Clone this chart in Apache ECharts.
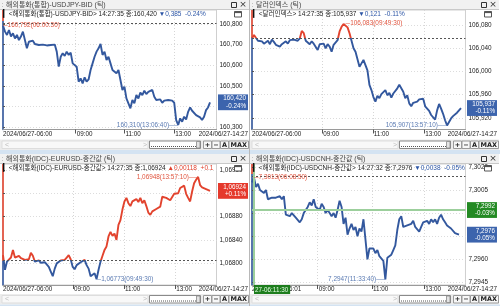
<!DOCTYPE html>
<html>
<head>
<meta charset="utf-8">
<script src="https://cdn.jsdelivr.net/npm/echarts@6/dist/echarts.min.js"></script>
<style>
html,body{margin:0;padding:0;background:#fff}
#c{width:500px;height:306px}
</style>
</head>
<body>
<div id="c"></div>
<script>
// ---- quotes, one value per sample (about 2 px of chart width each) ----
const usdjpyValues = [160.792,160.763,160.747,160.771,160.739,160.755,160.730,160.747,160.722,160.739,
160.763,160.758,160.682,160.714,160.706,160.719,160.703,160.709,160.698,160.703,
160.700,160.706,160.696,160.701,160.698,160.693,160.700,160.666,160.593,160.641,
160.658,160.645,160.666,160.650,160.661,160.609,160.617,160.593,160.520,160.536,
160.512,160.541,160.520,160.531,160.577,160.609,160.641,160.666,160.682,160.703,
160.650,160.666,160.625,160.641,160.609,160.577,160.585,160.561,160.577,160.569,
160.480,160.496,160.439,160.415,160.391,160.431,160.415,160.455,160.439,160.467,
160.455,160.476,160.460,160.471,160.463,160.480,160.447,160.431,160.423,160.434,
160.418,160.428,160.421,160.431,160.425,160.428,160.418,160.334,160.310,160.342,
160.326,160.350,160.337,160.374,160.395,160.379,160.370,160.358,160.366,160.347,
160.334,160.350,160.382,160.395,160.420];

const dxyValues = [106.057,106.063,106.065,106.053,106.050,106.052,106.048,106.051,106.053,106.047,
106.055,106.051,106.046,106.048,106.043,106.047,106.050,106.052,106.048,106.054,
106.051,106.055,106.052,106.053,106.057,106.070,106.066,106.053,106.051,106.047,
106.052,106.048,106.050,106.037,106.047,106.044,106.048,106.040,106.047,106.043,
106.034,106.046,106.048,106.054,106.069,106.077,106.082,106.083,106.076,106.066,
106.053,106.040,106.034,106.031,106.008,106.014,106.020,106.011,106.002,105.977,
105.968,105.956,105.948,105.958,105.954,105.961,105.958,105.968,105.959,105.963,
105.955,105.962,105.959,105.971,105.977,105.971,105.965,105.954,105.959,105.945,
105.940,105.946,105.944,105.948,105.952,105.950,105.953,105.940,105.936,105.932,
105.925,105.922,105.917,105.933,105.944,105.936,105.927,105.916,105.907,105.913,
105.919,105.923,105.922,105.929,105.932,105.937];

const eurusdValues = [1.06814,1.06789,1.06803,1.06800,1.06810,1.06823,1.06810,1.06807,1.06813,1.06809,
1.06810,1.06806,1.06803,1.06807,1.06818,1.06813,1.06803,1.06800,1.06805,1.06801,
1.06799,1.06802,1.06800,1.06794,1.06786,1.06778,1.06791,1.06800,1.06797,1.06805,
1.06807,1.06806,1.06810,1.06814,1.06807,1.06794,1.06790,1.06797,1.06800,1.06802,
1.06799,1.06806,1.06797,1.06791,1.06778,1.06776,1.06783,1.06773,1.06789,1.06803,
1.06813,1.06823,1.06829,1.06846,1.06854,1.06847,1.06851,1.06840,1.06866,1.06874,
1.06892,1.06906,1.06912,1.06903,1.06898,1.06906,1.06903,1.06910,1.06905,1.06912,
1.06903,1.06908,1.06898,1.06887,1.06883,1.06889,1.06886,1.06893,1.06892,1.06897,
1.06914,1.06916,1.06912,1.06913,1.06908,1.06910,1.06919,1.06916,1.06920,1.06929,
1.06926,1.06933,1.06919,1.06912,1.06906,1.06923,1.06937,1.06943,1.06948,1.06934,
1.06930,1.06933,1.06927,1.06930,1.06924];

const usdcnhValues = [7.3010,7.3013,7.3007,7.3009,7.3005,7.3006,7.3003,7.3005,7.2999,7.2998,
7.3000,7.2999,7.3000,7.2999,7.3001,7.2999,7.3001,7.2989,7.2989,7.2988,
7.2990,7.2989,7.2987,7.2988,7.2984,7.2986,7.2990,7.2991,7.2994,7.2997,
7.2995,7.2999,7.2994,7.2995,7.2992,7.2996,7.2994,7.2990,7.2992,7.2990,
7.2988,7.2990,7.2987,7.2992,7.2998,7.2994,7.2983,7.2987,7.2976,7.2980,
7.2983,7.2979,7.2981,7.2975,7.2980,7.2978,7.2986,7.2987,7.2960,7.2967,
7.2966,7.2967,7.2964,7.2966,7.2962,7.2961,7.2959,7.2947,7.2961,7.2960,
7.2963,7.2966,7.2969,7.2979,7.2986,7.2988,7.2981,7.2981,7.2982,7.2981,
7.2983,7.2985,7.2981,7.2980,7.2978,7.2981,7.2984,7.2984,7.2985,7.2983,
7.2986,7.2984,7.2986,7.2983,7.2987,7.2989,7.2986,7.2984,7.2982,7.2982,
7.2980,7.2981,7.2977,7.2978,7.2976];

// previous close (reference level for up/down colouring)
const baseLevels = [160.805, 106.058, 1.06806, 7.3014];
const decimals = [3, 3, 5, 4];

// price axis tick labels
const usdjpyYTicks = [160.3, 160.4, 160.5, 160.6, 160.7, 160.8];
const dxyYTicks = [105.92, 105.96, 106.00, 106.04, 106.08];
const eurusdYTicks = [1.0680, 1.0684, 1.0688, 1.0692, 1.0696];
const usdcnhYTicks = [7.2945, 7.2960, 7.2975, 7.2990, 7.3005, 7.3020];

// sample index where each hour mark falls
const hourTickText = ['09:00', '11:00', '13:00'];
const usdjpyHourIdx = [36.5, 61, 86];
const dxyHourIdx = [35.3, 60.7, 86.5];
const eurusdHourIdx = [35.2, 60.8, 86.5];
const usdcnhHourIdx = [33, 60.3, 86.5];
const startLabels = ['2024/06/27-06:00', '2024/06/27-06:00', '2024/06/27-06:00', '2024/06/27-06:01'];
const endLabel = '2024/06/27-14:27';

const windowTitles = ['해외통화(통합)-USDJPY-BID (틱)', '달러인덱스 (틱)', '해외통화(IDC)-EURUSD-중간값 (틱)', '해외통화(IDC)-USDCNH-중간값 (틱)'];
const itemNames = ['해외통화(통합)-USDJPY-BID', '달러인덱스', '해외통화(IDC)-EURUSD-중간값', '해외통화(IDC)-USDCNH-중간값'];
const quoteTimes = ['14:27:35', '14:27:35', '14:27:35', '14:27:32'];
const highTimes = ['06:00:30', '09:49:30', '13:57:10', '06:08:50'];
const lowTimes = ['13:06:40', '13:57:10', '09:49:30', '11:33:40'];

// crosshair on the USDCNH chart
const cursorValue = 7.2992;
const cursorIdx = 1;
const cursorTimeText = '27-06:11:30';

// ---- fonts: prefer a narrow face for the dense numeric labels ----
const probe = document.createElement('canvas').getContext('2d');
function hasFont(name) {
  const s = '2024/06/27-06:00 ABCxyz';
  probe.font = '20px monospace';
  const a = probe.measureText(s).width;
  probe.font = '20px "' + name + '", monospace';
  return Math.abs(probe.measureText(s).width - a) > 0.5;
}
const NARROW = hasFont('Liberation Sans Narrow');
const FONT = (NARROW ? '"Liberation Sans Narrow"' : '"Liberation Sans"') + ',"Noto Sans CJK KR",sans-serif';
const SZ = NARROW
  ? {axis: 7.5, y: 7.3, info: 7.2, title: 7.5, mark: 7.5, box: 7.2}
  : {axis: 6.3, y: 6.4, info: 6.5, title: 7, mark: 6.4, box: 6.3};

// ---- layout / styling ----
const RED = '#e2432e', BLUE = '#33589e', HI_TXT = '#e0553f', LO_TXT = '#5b7bb3';
const PLOT_W = 214.5;
const layout = [
  {ox: 0, oy: 0, h: 119.5, yMin: 160.288, yMax: 160.868, hiSide: 'right', loSide: 'left'},
  {ox: 250, oy: 0, h: 119.5, yMin: 105.900, yMax: 106.106, hiSide: 'right', loSide: 'left'},
  {ox: 0, oy: 154, h: 121, yMin: 1.06763, yMax: 1.06970, hiSide: 'left', loSide: 'right'},
  {ox: 250, oy: 154, h: 121, yMin: 7.29433, yMax: 7.30219, hiSide: 'right', loSide: 'left'}
];

const panels = [
  {values: usdjpyValues, yTicks: usdjpyYTicks, hourIdx: usdjpyHourIdx},
  {values: dxyValues, yTicks: dxyYTicks, hourIdx: dxyHourIdx},
  {values: eurusdValues, yTicks: eurusdYTicks, hourIdx: eurusdHourIdx},
  {values: usdcnhValues, yTicks: usdcnhYTicks, hourIdx: usdcnhHourIdx}
];

const fmt = (v, d) => v.toFixed(d).replace('.', ',');
const pctText = (v, base) => {
  const p = (v - base) / base * 100;
  return (p >= 0 ? '+' : '-') + Math.abs(p).toFixed(2) + '%';
};
const measure = (t, size) => { probe.font = size + 'px ' + FONT; return probe.measureText(t).width; };

const grids = [], xAxes = [], yAxes = [], series = [], visualMaps = [], graphics = [];

panels.forEach((p, i) => {
  const L = layout[i];
  const base = baseLevels[i], dec = decimals[i];
  const last = p.values.length - 1;
  const lastV = p.values[last];
  const gl = L.ox + 2, gt = L.oy + 10;
  const pxPerIdx = 2;
  grids.push({left: gl, top: gt, width: PLOT_W, height: L.h, show: true,
    borderColor: '#cfcfcf', borderWidth: 1, backgroundColor: '#fff'});

  const endShift = (L.ox + 248 - measure(endLabel, SZ.axis)) - (gl + last * pxPerIdx);
  xAxes.push({
    gridIndex: i, type: 'value', min: 0, max: PLOT_W / pxPerIdx,
    axisLine: {show: true, lineStyle: {color: '#9a9a9a', width: 1}},
    axisTick: {show: true, customValues: p.hourIdx, length: 4, lineStyle: {color: '#555'}},
    axisLabel: {
      show: true, customValues: [0].concat(p.hourIdx, [last]),
      showMinLabel: true, showMaxLabel: true, margin: 1.5, align: 'left',
      fontSize: SZ.axis, fontFamily: FONT, color: '#222',
      formatter: v => {
        if (v === 0) return startLabels[i];
        if (v === last) return '{e|' + endLabel + '}';
        const k = p.hourIdx.indexOf(v);
        return k >= 0 ? '{t|' + hourTickText[k] + '}' : '';
      },
      rich: {
        e: {padding: [0, 0, 0, endShift], fontSize: SZ.axis, fontFamily: FONT, color: '#222'},
        t: {padding: [0, 0, 0, 1], fontSize: SZ.axis, fontFamily: FONT, color: '#222'}
      }
    },
    splitLine: {show: true, lineStyle: {color: '#d6d6d6', type: [1, 2], width: 1}}
  });

  const fc = Math.max(0, Math.min(1, (L.yMax - base) / (L.yMax - L.yMin)));
  yAxes.push({
    gridIndex: i, type: 'value', position: 'right', min: L.yMin, max: L.yMax,
    axisLine: {show: true, lineStyle: {width: 1.6, color: {
      type: 'linear', x: 0, y: 0, x2: 0, y2: 1,
      colorStops: [{offset: 0, color: RED}, {offset: fc, color: RED}, {offset: fc, color: BLUE}, {offset: 1, color: BLUE}]
    }}},
    axisTick: {show: true, customValues: p.yTicks, length: 2, lineStyle: {color: '#555'}},
    axisLabel: {customValues: p.yTicks, showMinLabel: true, showMaxLabel: true, margin: 3,
      fontSize: SZ.y, fontFamily: FONT, color: '#222', formatter: v => fmt(v, dec)},
    splitLine: {show: true, lineStyle: {color: '#dcdcdc', type: [1, 2], width: 1}}
  });

  // red above the previous close, blue below it
  visualMaps.push({type: 'piecewise', show: false, seriesIndex: i, dimension: 1,
    pieces: [
      {gt: base, lte: L.yMax + 1, color: RED},
      {gt: L.yMin - 1, lte: base, color: BLUE}
    ],
    outOfRange: {color: BLUE}});

  const boxLabel = (bg) => ({
    show: true, position: 'end', distance: 31.5, align: 'right', verticalAlign: 'middle',
    width: 26, backgroundColor: bg, color: '#fff', padding: [1, 2, 0, 2],
    fontSize: SZ.box, lineHeight: 7.4, fontFamily: FONT
  });

  const lines = [
    {yAxis: base, lineStyle: {color: '#555', type: [2, 2], width: 1}, label: {show: false}},
    {yAxis: lastV, lineStyle: {width: 0, color: 'rgba(0,0,0,0)'},
      label: Object.assign(boxLabel(lastV >= base ? '#e5392c' : '#3c64ad'),
        {formatter: () => fmt(lastV, dec) + '\n' + pctText(lastV, base)})}
  ];
  if (i === 3) {
    lines.push({yAxis: cursorValue, lineStyle: {color: '#9ccf9c', width: 2, type: 'solid'},
      label: Object.assign(boxLabel('#238a23'), {formatter: () => fmt(cursorValue, dec) + '\n' + pctText(cursorValue, base)})});
    lines.push({xAxis: cursorIdx, lineStyle: {color: '#9ccf9c', width: 2, type: 'solid'},
      label: {show: true, position: 'start', distance: 0, align: 'left', verticalAlign: 'top',
        backgroundColor: '#1d7d1d', color: '#e8ffe8', padding: [2, 2, 1, 1], fontSize: SZ.axis, fontFamily: FONT,
        formatter: () => cursorTimeText}});
  }

  const hiLo = (side, color, textFn) => ({
    show: true, position: side, distance: 0, color: color, fontSize: SZ.mark, fontFamily: FONT, formatter: textFn
  });
  const leftText = pp => fmt(pp.value, dec) + '(' + pp.name + ')\u2500\u2500';
  const rightText = pp => '\u2500' + fmt(pp.value, dec) + '(' + pp.name + ')';

  series.push({
    type: 'line', xAxisIndex: i, yAxisIndex: i,
    data: p.values.map((v, k) => [k, v]),
    symbol: 'none', showSymbol: false, animation: false,
    lineStyle: {width: 1.9},
    markLine: {silent: true, symbol: ['none', 'none'], animation: false, precision: dec, data: lines},
    markPoint: {silent: true, animation: false, symbol: 'circle', symbolSize: 0.1,
      itemStyle: {color: 'rgba(0,0,0,0)'},
      data: [
        {type: 'max', name: highTimes[i], label: hiLo(L.hiSide, HI_TXT, L.hiSide === 'right' ? rightText : leftText)},
        {type: 'min', name: lowTimes[i], label: hiLo(L.loSide, LO_TXT, L.loSide === 'right' ? rightText : leftText)}
      ]}
  });

  // ---- window chrome: title bar, quote line, scroll row ----
  const ox = L.ox, oy = L.oy;
  const Z = 50;
  const down = lastV < base;
  const chg = (down ? '\u25BC' : '\u25B2') + fmt(Math.abs(lastV - base), dec) + '  ' + pctText(lastV, base);
  const quote = '<' + itemNames[i] + '> ' + quoteTimes[i] + ' 종:' + fmt(lastV, dec) + ' ';
  const sr = oy + (i < 2 ? 139.5 : 140);
  graphics.push(
    {type: 'rect', z: Z, shape: {x: ox, y: oy, width: 249, height: 9.5}, style: {fill: '#f1f1f1'}},
    {type: 'line', z: Z, shape: {x1: ox, y1: oy + 9.5, x2: ox + 249, y2: oy + 9.5}, style: {stroke: '#c9c9c9', lineWidth: 1}},
    {type: 'text', z: Z, x: ox + 1.5, y: oy + 4.8, style: {text: ':', fill: '#9a9a9a', fontSize: 7, fontFamily: FONT, verticalAlign: 'middle'}},
    {type: 'text', z: Z, x: ox + 6, y: oy + 5, style: {text: windowTitles[i], fill: '#444', fontSize: SZ.title, fontFamily: FONT, verticalAlign: 'middle'}},
    {type: 'rect', z: Z, shape: {x: ox + 231.5, y: oy + 2.5, width: 5, height: 5}, style: {fill: 'none', stroke: '#333', lineWidth: 1}},
    {type: 'text', z: Z, x: ox + 243, y: oy + 5, style: {text: '\u00D7', fill: '#333', fontSize: 9, fontFamily: '"DejaVu Sans",sans-serif', align: 'center', verticalAlign: 'middle'}},
    {type: 'text', z: Z, x: ox + 3, y: oy + 14.5, style: {
      text: '{k|\u258E}{a|' + quote + '}{b|' + chg + '}',
      width: 213, overflow: 'truncate', ellipsis: '', verticalAlign: 'middle',
      rich: {
        k: {fill: '#111', fontSize: 7.5, fontFamily: '"DejaVu Sans",sans-serif'},
        a: {fill: '#222', fontSize: SZ.info, fontFamily: FONT},
        b: {fill: down ? '#2d56a6' : '#e0402c', fontSize: SZ.info, fontFamily: FONT}
      }}},
    {type: 'rect', z: Z, shape: {x: ox + 234.5, y: oy + 11.5, width: 7, height: 5.5}, style: {fill: '#fff', stroke: '#555', lineWidth: 1}},
    {type: 'rect', z: Z, shape: {x: ox + 234.5, y: oy + 11.5, width: 7, height: 1.6}, style: {fill: '#555'}},
    // scroll row
    {type: 'rect', z: Z, shape: {x: ox, y: sr, width: 249, height: 10.5}, style: {fill: '#ececec'}},
    {type: 'rect', z: Z, shape: {x: ox + 2, y: sr + 1.5, width: 146, height: 7.5}, style: {fill: '#f8f8f8', stroke: '#dddddd', lineWidth: 1}},
    {type: 'text', z: Z, x: ox + 5, y: sr + 5.3, style: {text: '<', fill: '#bbb', fontSize: 7, fontFamily: FONT, verticalAlign: 'middle'}},
    {type: 'text', z: Z, x: ox + 143, y: sr + 5.3, style: {text: '>', fill: '#bbb', fontSize: 7, fontFamily: FONT, verticalAlign: 'middle'}},
    {type: 'rect', z: Z, shape: {x: ox + 149.5, y: sr + 1.5, width: 51, height: 7.5}, style: {fill: '#fff', stroke: '#8a8a8a', lineWidth: 1}},
    {type: 'line', z: Z, shape: {x1: ox + 151, y1: sr + 7, x2: ox + 197, y2: sr + 7}, style: {stroke: '#555', lineWidth: 1, lineDash: [1, 1]}},
    {type: 'rect', z: Z, shape: {x: ox + 196.5, y: sr + 2, width: 3.5, height: 6.5}, style: {fill: '#e4e4e4', stroke: '#888', lineWidth: 0.8}}
  );
  [[203.5, 8, '+'], [212, 8, '\u2212'], [220.5, 8, 'A'], [229, 19.5, 'MAX']].forEach(b => {
    graphics.push(
      {type: 'rect', z: Z, shape: {x: ox + b[0], y: sr + 1.5, width: b[1], height: 7.5}, style: {fill: '#f7f7f7', stroke: '#9a9a9a', lineWidth: 1}},
      {type: 'text', z: Z, x: ox + b[0] + b[1] / 2, y: sr + 5.4, style: {text: b[2], fill: '#222', fontSize: 6.5, fontWeight: 'bold', fontFamily: '"DejaVu Sans",sans-serif', align: 'center', verticalAlign: 'middle'}}
    );
  });
  graphics.push({type: 'rect', z: Z, shape: {x: ox, y: sr + 10.5, width: 250, height: 4}, style: {fill: '#d4e3f2'}});
});

// divider between the left and right windows
graphics.push({type: 'line', z: 60, shape: {x1: 249.5, y1: 0, x2: 249.5, y2: 306}, style: {stroke: '#b8b8b8', lineWidth: 1}});

const chart = echarts.init(document.getElementById('c'), null, {renderer: 'canvas'});
chart.setOption({
  animation: false,
  backgroundColor: '#fff',
  grid: grids,
  xAxis: xAxes,
  yAxis: yAxes,
  visualMap: visualMaps,
  series: series,
  graphic: {elements: graphics}
});
</script>
</body>
</html>
